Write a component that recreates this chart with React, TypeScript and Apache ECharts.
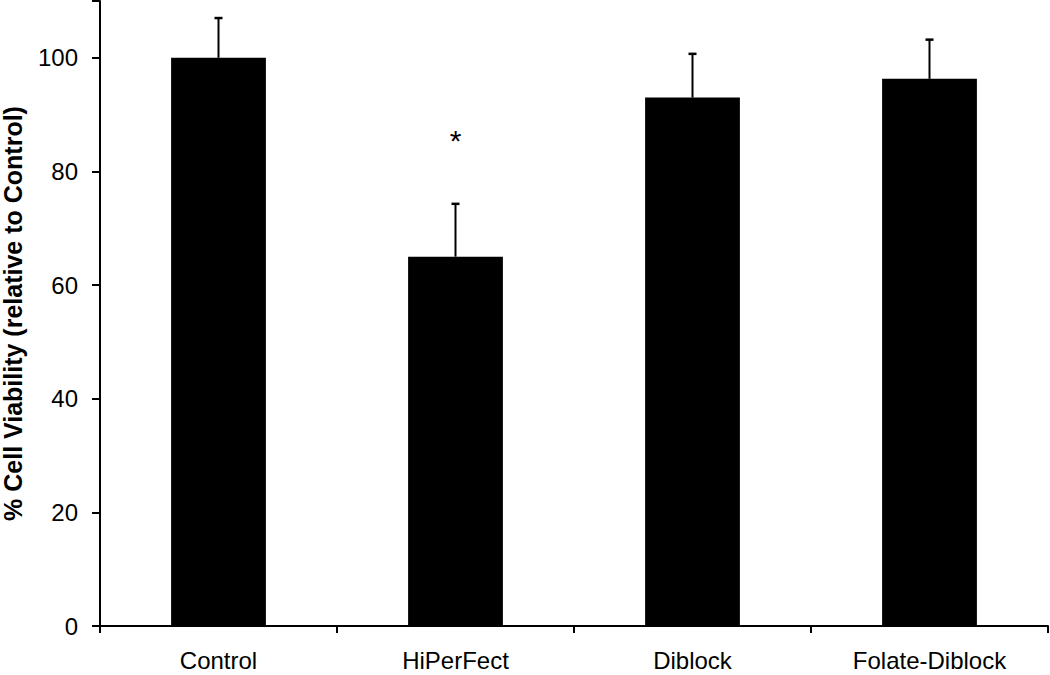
import React, { useEffect, useRef } from "react";
import * as echarts from "echarts";

const categories = ["Control", "HiPerFect", "Diblock", "Folate-Diblock"];
const viability = [100, 65.0, 93.0, 96.3];
const errorSD = [7.0, 9.3, 7.7, 6.9];
const significance = ["", "*", "", ""];
const significanceY = [0, 85.5, 0, 0];
const yTicks = [0, 20, 40, 60, 80, 100];

export default function App() {
  const ref = useRef<HTMLDivElement>(null);
  useEffect(() => {
    document.body.style.margin = "0";
    const chart = echarts.init(ref.current!, null, { renderer: "svg" });
    const font = "'Liberation Sans', Arial, sans-serif";
    chart.setOption({
      animation: false,
      backgroundColor: "#fff",
      grid: { left: 100, right: 2, top: 1, bottom: 49, outerBoundsMode: "none", containLabel: false },
      xAxis: {
        type: "category",
        data: categories,
        axisLine: { lineStyle: { color: "#000", width: 2 } },
        axisTick: { show: true, length: 7, lineStyle: { color: "#000", width: 2 } },
        axisLabel: { color: "#000", fontSize: 24, fontFamily: font, margin: 24, lineHeight: 20 },
      },
      yAxis: {
        type: "value",
        min: 0,
        max: 110,
        interval: 20,
        name: "% Cell Viability (relative to Control)",
        nameLocation: "middle",
        nameGap: 76,
        nameTextStyle: { color: "#000", fontSize: 25, fontWeight: "bold", fontFamily: font, lineHeight: 22 },
        axisLine: { show: true, lineStyle: { color: "#000", width: 2 } },
        axisTick: { show: true, length: 8, lineStyle: { color: "#000", width: 2 } },
        axisLabel: {
          color: "#000",
          fontSize: 24,
          fontFamily: font,
          margin: 22,
          formatter: (v: number) => (yTicks.includes(v) ? String(v) : ""),
        },
        splitLine: { show: false },
      },
      series: [
        {
          type: "bar",
          data: viability,
          barWidth: "40%",
          itemStyle: { color: "#000" },
          z: 2,
        },
        {
          type: "custom",
          z: 3,
          data: viability.map((v, i) => [i, v, v + errorSD[i]]),
          renderItem: (params: any, api: any) => {
            const x = api.value(0);
            const p0 = api.coord([x, api.value(1)]);
            const p1 = api.coord([x, api.value(2)]);
            const half = 4;
            return {
              type: "group",
              children: [
                {
                  type: "line",
                  shape: { x1: p0[0], y1: p0[1], x2: p1[0], y2: p1[1] },
                  style: { stroke: "#000", lineWidth: 2 },
                },
                {
                  type: "line",
                  shape: { x1: p1[0] - half, y1: p1[1], x2: p1[0] + half, y2: p1[1] },
                  style: { stroke: "#000", lineWidth: 2.5 },
                },
              ],
            };
          },
        },
        {
          type: "custom",
          z: 4,
          data: significance.map((s, i) => [i, significanceY[i], s]),
          renderItem: (params: any, api: any) => {
            const idx = params.dataIndex;
            if (!significance[idx]) return null;
            const p = api.coord([api.value(0), api.value(1)]);
            return {
              type: "text",
              x: p[0],
              y: p[1],
              style: {
                text: significance[idx],
                fill: "#000",
                fontSize: 30,
                fontFamily: font,
                align: "center",
                verticalAlign: "middle",
              },
            };
          },
        },
      ],
    });
    return () => chart.dispose();
  }, []);
  return <div ref={ref} style={{ width: 1050, height: 675 }} />;
}
